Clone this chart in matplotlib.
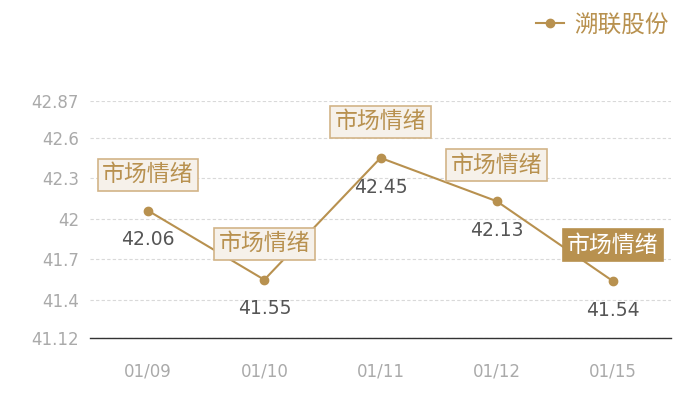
import matplotlib
matplotlib.use("Agg")
import matplotlib.pyplot as plt

plt.rcParams["font.family"] = ["Noto Sans CJK SC", "DejaVu Sans"]

dates = ["01/09", "01/10", "01/11", "01/12", "01/15"]
prices = [42.06, 41.55, 42.45, 42.13, 41.54]
yticks = [41.12, 41.4, 41.7, 42, 42.3, 42.6, 42.87]
ytick_labels = ["41.12", "41.4", "41.7", "42", "42.3", "42.6", "42.87"]
tag = "市场情绪"
series_name = "溯联股份"

GOLD = "#b8914f"
GRID = "#d9d9d9"
TICK = "#aaaaaa"

fig = plt.figure(figsize=(7, 4), dpi=100)
ax = fig.add_axes([0.1286, 0.155, 0.83, 0.5925])

x = list(range(len(dates)))
ax.plot(x, prices, "-o", color=GOLD, lw=1.5, ms=6, label=series_name, zorder=3)

ax.set_xlim(-0.5, len(dates) - 0.5)
ax.set_ylim(yticks[0], yticks[-1])
ax.set_yticks(yticks)
ax.set_yticklabels(ytick_labels)
ax.set_xticks(x)
ax.set_xticklabels(dates)
ax.tick_params(axis="both", length=0, colors=TICK, labelsize=12)
ax.tick_params(axis="x", pad=18)
ax.tick_params(axis="y", pad=8)
for lab in ax.get_yticklabels() + ax.get_xticklabels():
    lab.set_family(["DejaVu Sans"])

ax.grid(axis="y", color=GRID, ls=(0, (3, 2)), lw=0.8)
for s in ["top", "right", "left"]:
    ax.spines[s].set_visible(False)
ax.spines["bottom"].set_color("#333333")
ax.spines["bottom"].set_linewidth(1)

for i, v in enumerate(prices):
    ax.annotate(f"{v:.2f}", (i, v), xytext=(0, -21), textcoords="offset points",
                ha="center", va="center", fontsize=13.5, color="#555555",
                family=["DejaVu Sans"])
    last = i == len(prices) - 1
    ax.annotate(tag, (i, v), xytext=(0, 26), textcoords="offset points",
                ha="center", va="center", fontsize=16.5, zorder=5,
                color="white" if last else GOLD,
                bbox=dict(boxstyle="square,pad=0.2",
                          fc=GOLD if last else "#f6f1ea",
                          ec=GOLD if last else "#d2b488", lw=1.2))

leg = fig.legend(loc="upper right", bbox_to_anchor=(0.985, 1.02), frameon=False,
                 fontsize=17, handlelength=1.2, handletextpad=0.4)
for t in leg.get_texts():
    t.set_color(GOLD)

fig.savefig("out.png", dpi=100)
